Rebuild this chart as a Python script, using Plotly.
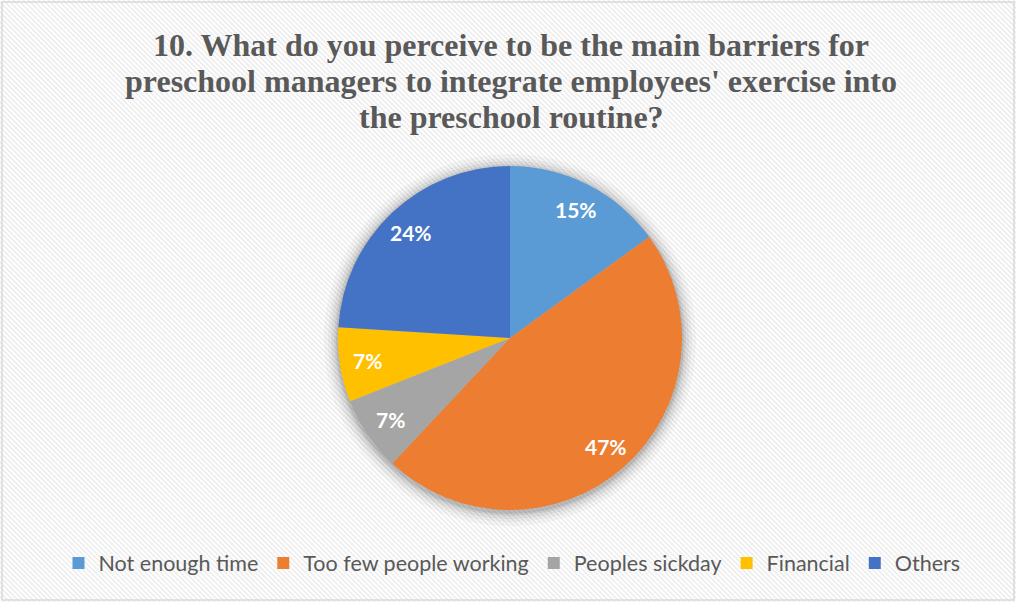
import math
import plotly.graph_objects as go

# ---- data ----
categories = ["Not enough time", "Too few people working", "Peoples sickday", "Financial", "Others"]
values = [15, 47, 7, 7, 24]
colors = ["#5B9BD5", "#ED7D31", "#A5A5A5", "#FFC000", "#4472C4"]
title_lines = ["10. What do you perceive to be the main barriers for",
               "preschool managers to integrate employees' exercise into",
               "the preschool routine?"]

W, H = 1016, 602

def px(x):
    return x / W

def py(y):
    return 1 - y / H

# pie geometry (pixels)
CX, CY, R = 510, 338, 172

fig = go.Figure(go.Pie(
    labels=categories,
    values=values,
    marker=dict(colors=colors, line=dict(color="white", width=0)),
    sort=False,
    direction="clockwise",
    rotation=0,
    textinfo="none",
    domain=dict(x=[px(CX - R), px(CX + R)], y=[py(CY + R), py(CY - R)]),
    hoverinfo="label+percent",
))

shapes = []
# diagonal hatch background
step = 5
segs = []
for k in range(-H, W + H, step):
    segs.append(f"M{px(k):.5f},{py(0):.5f} L{px(k + H):.5f},{py(H):.5f}")
shapes.append(dict(type="path", path=" ".join(segs), xref="paper", yref="paper",
                   line=dict(color="#EDEDED", width=1.6), layer="below"))
# soft shadow behind pie
for grow, op in [(14, 0.03), (10, 0.04), (7, 0.05), (4, 0.07), (2, 0.09)]:
    rr = R + grow
    shapes.append(dict(type="circle", xref="paper", yref="paper",
                       x0=px(CX - rr), x1=px(CX + rr),
                       y0=py(CY + 2 + rr), y1=py(CY + 2 - rr),
                       fillcolor=f"rgba(0,0,0,{op})", line=dict(width=0), layer="below"))
# border
shapes.append(dict(type="rect", xref="paper", yref="paper",
                   x0=px(2), x1=px(W - 2), y0=py(H - 2), y1=py(2),
                   line=dict(color="#D9D9D9", width=1.5), layer="above"))

annotations = []
# title, one annotation per line for tight leading
for i, line in enumerate(title_lines):
    annotations.append(dict(
        text=line, x=px(511), y=py(45 + 36 * i), xref="paper", yref="paper",
        xanchor="center", yanchor="middle", showarrow=False,
        font=dict(family="Liberation Serif", size=32, color="#595959", weight="bold"),
    ))

# data labels placed at slice mid-angles (computed from values)
total = sum(values)
cum = 0
for v in values:
    mid = (cum + v / 2) / total * 2 * math.pi
    cum += v
    rr = 0.84 * R
    lx = CX + rr * math.sin(mid)
    ly = CY - rr * math.cos(mid)
    annotations.append(dict(
        text=f"{round(100 * v / total)}%", x=px(lx), y=py(ly), xref="paper", yref="paper",
        xanchor="center", yanchor="middle", showarrow=False,
        font=dict(family="Lato", size=21, color="white", weight="bold"),
    ))

fig.update_layout(
    width=W, height=H,
    margin=dict(l=0, r=0, t=0, b=0),
    paper_bgcolor="white",
    plot_bgcolor="white",
    shapes=shapes,
    annotations=annotations,
    legend=dict(
        orientation="h", x=px(512), xanchor="center", y=py(563), yanchor="middle",
        font=dict(family="Lato", size=21.5, color="#595959"),
        bgcolor="rgba(0,0,0,0)", itemwidth=30,
    ),
    showlegend=True,
)

fig.write_html("out.html", config={"displayModeBar": False},
               post_script="document.body.style.margin='0';")
